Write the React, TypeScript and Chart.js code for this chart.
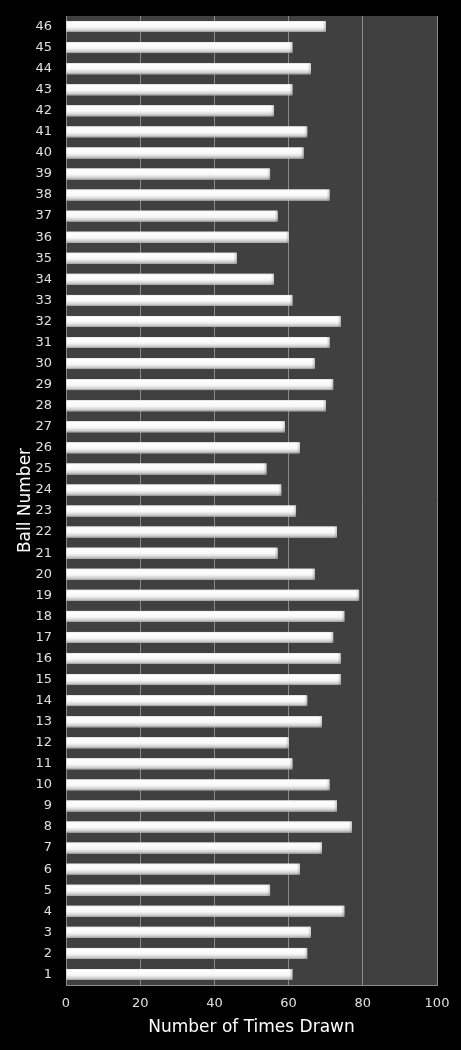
import React, { useEffect, useRef } from 'react';
import Chart from 'chart.js/auto';

const ballNumbers = [
  '1', '2', '3', '4', '5', '6', '7', '8', '9', '10',
  '11', '12', '13', '14', '15', '16', '17', '18', '19', '20',
  '21', '22', '23', '24', '25', '26', '27', '28', '29', '30',
  '31', '32', '33', '34', '35', '36', '37', '38', '39', '40',
  '41', '42', '43', '44', '45', '46',
];

const timesDrawn = [
  61, 65, 66, 75, 55, 63, 69, 77, 73, 71,
  61, 60, 69, 65, 74, 74, 72, 75, 79, 67,
  57, 73, 62, 58, 54, 63, 59, 70, 72, 67,
  71, 74, 61, 56, 46, 60, 57, 71, 55, 64,
  65, 56, 61, 66, 61, 70,
];

const xTicks = [0, 20, 40, 60, 80, 100];

// dark plot background
const plotBackground = {
  id: 'plotBackground',
  beforeDraw(chart: Chart) {
    const { ctx, chartArea } = chart;
    ctx.save();
    ctx.fillStyle = '#404040';
    ctx.fillRect(chartArea.left, chartArea.top, chartArea.right - chartArea.left, chartArea.bottom - chartArea.top);
    ctx.restore();
  },
};

// cylinder-ish shading over each bar
const barShading = {
  id: 'barShading',
  afterDatasetsDraw(chart: Chart) {
    const { ctx } = chart;
    const meta = chart.getDatasetMeta(0);
    ctx.save();
    meta.data.forEach((el: any) => {
      const { x, y, base, height } = el.getProps(['x', 'y', 'base', 'height'], true);
      const top = y - height / 2;
      const g = ctx.createLinearGradient(0, top, 0, top + height);
      g.addColorStop(0, '#e6e6e6');
      g.addColorStop(0.12, '#ffffff');
      g.addColorStop(0.55, '#f8f8f8');
      g.addColorStop(0.85, '#cfcfcf');
      g.addColorStop(1, '#999999');
      ctx.fillStyle = g;
      ctx.fillRect(base, top, x - base, height);
      const e = ctx.createLinearGradient(x - 3, 0, x, 0);
      e.addColorStop(0, 'rgba(0,0,0,0)');
      e.addColorStop(1, 'rgba(0,0,0,0.2)');
      ctx.fillStyle = e;
      ctx.fillRect(x - 3, top, 3, height);
    });
    ctx.restore();
  },
};

const App: React.FC = () => {
  const canvasRef = useRef<HTMLCanvasElement>(null);

  useEffect(() => {
    document.body.style.margin = '0';
    document.body.style.background = '#000';
    if (!canvasRef.current) return;

    const chart = new Chart(canvasRef.current, {
      type: 'bar',
      data: {
        labels: ballNumbers,
        datasets: [{
          data: timesDrawn,
          backgroundColor: '#ffffff',
          borderWidth: 0,
          categoryPercentage: 1,
          barPercentage: 0.52,
        }],
      },
      options: {
        indexAxis: 'y',
        responsive: false,
        animation: false,
        layout: { padding: { top: 16, right: 24, left: 0, bottom: 0 } },
        plugins: {
          legend: { display: false },
          tooltip: { enabled: false },
        },
        scales: {
          x: {
            type: 'linear',
            min: 0,
            max: 100,
            afterBuildTicks: (scale: any) => {
              scale.ticks = xTicks.map((v) => ({ value: v }));
            },
            afterFit: (scale: any) => {
              scale.height = 65;
              scale.paddingLeft = 0;
              scale.paddingRight = 0;
            },
            ticks: {
              color: '#e0e0e0',
              font: { family: 'DejaVu Sans', size: 13 },
              padding: 11,
            },
            grid: { color: '#8a8a8a', drawTicks: false, lineWidth: 1 },
            border: { display: true, color: '#8a8a8a' },
            title: {
              display: true,
              text: 'Number of Times Drawn',
              color: '#ffffff',
              font: { family: 'DejaVu Sans', size: 17 },
              padding: { top: 0, bottom: 12 },
            },
          },
          y: {
            type: 'category',
            reverse: true,
            afterFit: (scale: any) => {
              scale.width = 66;
              scale.paddingTop = 0;
              scale.paddingBottom = 0;
            },
            ticks: {
              color: '#e0e0e0',
              font: { family: 'DejaVu Sans', size: 13 },
              padding: 14,
              autoSkip: false,
            },
            grid: { display: false, drawTicks: false },
            border: { display: true, color: '#8a8a8a' },
            title: {
              display: true,
              text: 'Ball Number',
              color: '#ffffff',
              font: { family: 'DejaVu Sans', size: 17 },
              padding: { top: 15, bottom: 0 },
            },
          },
        },
      },
      plugins: [plotBackground, barShading],
    });

    return () => {
      chart.destroy();
    };
  }, []);

  return <canvas ref={canvasRef} width={461} height={1050} style={{ display: 'block' }} />;
};

export default App;
